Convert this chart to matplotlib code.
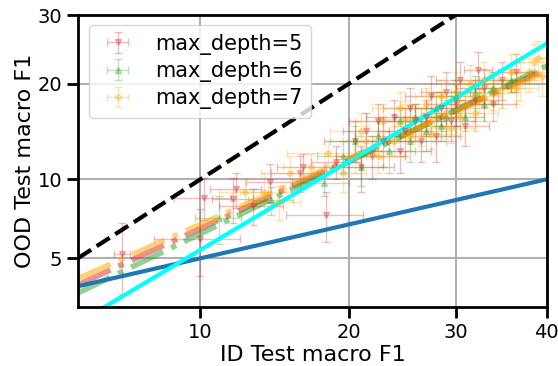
from math import erf
import numpy as np
import matplotlib
matplotlib.use('Agg')
import matplotlib.pyplot as plt

# ID / OOD macro F1 (%) for each max_depth, with std as error bars
d5_x = [6.5, 10.0, 10.2, 11.8, 12.0, 13.0, 14.1, 16.2, 16.4, 18.2, 19.0,
        20.5, 21.0, 21.5, 22.0, 22.5, 23.0, 24.0, 24.5, 25.0, 25.5, 26.0, 26.5,
        27.0, 27.5, 28.0, 28.5, 29.0, 29.5, 30.0, 30.5, 31.0, 32.0, 32.4, 33.0,
        34.0, 35.0, 36.5]
d5_y = [5.2, 6.0, 8.6, 8.5, 9.2, 8.0, 9.8, 10.5, 11.0, 7.4, 11.5,
        13.5, 11.0, 14.5, 12.0, 15.5, 13.5, 16.0, 12.5, 14.5, 17.0, 15.5, 13.5,
        16.0, 18.5, 14.0, 17.0, 19.0, 15.5, 17.5, 20.5, 15.0, 18.0, 21.9, 19.5,
        17.5, 20.5, 21.5]
d5_xerr = [0.3, 2.2, 1.5, 1.2, 1.5, 2.0, 1.5, 2.0, 1.8, 3.0, 2.0,
           2.5, 3.0, 2.0, 3.0, 2.5, 2.5, 2.5, 3.0, 2.5, 2.5, 3.0, 2.5,
           3.0, 2.5, 2.5, 2.5, 2.5, 2.5, 3.0, 2.5, 2.5, 2.5, 1.5, 3.0,
           2.5, 2.5, 2.0]
d5_yerr = [1.7, 1.8, 1.5, 1.6, 1.3, 1.2, 1.5, 1.5, 1.2, 1.6, 1.5,
           2.0, 2.0, 2.0, 2.0, 2.0, 2.5, 2.0, 2.0, 2.5, 2.5, 2.0, 2.0,
           2.0, 2.5, 2.5, 2.0, 2.5, 2.0, 2.5, 2.5, 2.0, 2.5, 2.5, 2.5,
           2.0, 2.5, 2.5]

d6_x = [11.0, 14.2, 18.0, 19.5, 20.5, 21.0, 22.5, 23.5, 24.5, 25.5, 26.0, 27.0,
        28.0, 28.5, 29.0, 30.0, 31.0, 32.0, 33.0, 34.0, 36.0]
d6_y = [7.2, 8.4, 9.7, 12.0, 13.5, 11.0, 14.0, 12.5, 15.5, 13.5, 16.0, 14.5,
        17.0, 15.0, 16.0, 18.5, 16.0, 19.0, 17.5, 19.5, 20.5]
d6_xerr = [1.3, 1.5, 2.0, 2.0, 2.0, 2.0, 2.0, 2.5, 2.0, 2.5, 2.0, 2.0,
           2.5, 2.0, 2.0, 2.5, 2.0, 2.5, 2.0, 2.0, 2.0]
d6_yerr = [1.5, 1.0, 1.0, 1.5, 1.5, 1.5, 1.5, 2.0, 1.5, 2.0, 1.5, 2.0,
           2.0, 1.5, 2.0, 2.0, 1.5, 2.0, 2.0, 2.0, 1.5]

d7_x = [12.5, 13.7, 14.7, 15.5, 17.0, 18.3, 19.5, 20.5, 21.0, 21.5, 22.5, 23.0,
        24.0, 24.5, 25.0, 25.5, 26.5, 27.0, 27.5, 28.0, 28.5, 29.0, 29.5, 30.0,
        30.5, 31.0, 31.5, 32.0, 32.5, 33.0, 34.0, 35.0, 36.0, 36.5, 37.0, 38.0,
        38.5, 39.0, 39.5]
d7_y = [9.0, 9.0, 8.3, 10.5, 11.0, 12.3, 10.5, 12.0, 14.5, 13.5, 12.0, 15.5,
        13.5, 17.0, 15.8, 14.0, 15.0, 17.5, 14.2, 16.0, 18.5, 16.5, 14.8, 19.0,
        16.0, 17.5, 20.0, 16.5, 18.5, 20.5, 18.8, 19.5, 21.5, 19.5, 20.5, 21.5,
        23.0, 23.5, 21.0]
d7_xerr = [1.5, 1.5, 1.5, 2.0, 2.0, 3.0, 2.0, 2.5, 2.5, 2.0, 2.5, 2.5,
           2.0, 2.5, 2.5, 3.0, 2.5, 2.5, 2.5, 2.5, 2.5, 2.5, 2.5, 3.0,
           2.5, 2.5, 2.5, 2.5, 2.5, 2.5, 2.5, 2.5, 2.5, 2.5, 2.5, 2.0,
           2.0, 2.0, 1.5]
d7_yerr = [1.0, 1.5, 1.2, 1.5, 1.2, 1.2, 1.5, 1.5, 2.0, 1.5, 1.5, 2.0,
           1.5, 2.0, 2.0, 1.5, 2.0, 2.0, 1.5, 2.5, 2.0, 2.0, 1.5, 2.5,
           2.0, 2.0, 2.5, 2.0, 2.0, 2.5, 2.0, 2.5, 2.5, 2.0, 2.5, 2.5,
           2.5, 2.5, 2.5]

# linear fits in probit space (end points)
fit_x = [5, 40]
fit5_y = [3.85, 22.0]
fit6_y = [3.55, 22.4]
fit7_y = [4.1, 21.7]
blue_x, blue_y = [5, 40], [3.8, 10.0]
cyan_x, cyan_y = [5.86, 40], [3.07, 25.6]
diag = [5, 30]

ticks_x = [10, 20, 30, 40]
ticks_y = [5, 10, 20, 30]

_erf = np.vectorize(erf, otypes=[float])


def cdf(z):
    return 0.5 * (1 + _erf(np.asarray(z, dtype=float) / np.sqrt(2)))


def ppf(p):
    p = np.clip(np.asarray(p, dtype=float), 1e-9, 1 - 1e-9)
    lo = np.full(p.shape, -8.0)
    hi = np.full(p.shape, 8.0)
    for _ in range(50):
        mid = (lo + hi) / 2
        below = cdf(mid) < p
        lo = np.where(below, mid, lo)
        hi = np.where(below, hi, mid)
    return (lo + hi) / 2


def fwd(v):
    return ppf(np.asarray(v, dtype=float) / 100)


def inv(z):
    return cdf(z) * 100


fig, ax = plt.subplots(figsize=(5.58, 3.66), dpi=100)
plt.subplots_adjust(left=0.14, right=0.98, bottom=0.161, top=0.959)
ax.set_xscale('function', functions=(fwd, inv))
ax.set_yscale('function', functions=(fwd, inv))

eb = dict(alpha=0.3, capsize=3, ms=4, elinewidth=1, capthick=1)
ax.errorbar(d5_x, d5_y, xerr=d5_xerr, yerr=d5_yerr, fmt='v', color='tab:red',
            label='max_depth=5', **eb)
ax.errorbar(d6_x, d6_y, xerr=d6_xerr, yerr=d6_yerr, fmt='^', color='tab:green',
            label='max_depth=6', **eb)
ax.errorbar(d7_x, d7_y, xerr=d7_xerr, yerr=d7_yerr, fmt='o', color='orange',
            label='max_depth=7', **eb)

ax.plot(fit_x, fit5_y, '-.', color='tab:red', alpha=0.5, lw=4)
ax.plot(fit_x, fit6_y, '-.', color='tab:green', alpha=0.5, lw=4)
ax.plot(fit_x, fit7_y, '-.', color='orange', alpha=0.5, lw=4)
ax.plot(diag, diag, '--', color='black', lw=3)
ax.plot(blue_x, blue_y, '-', color='tab:blue', lw=3)
ax.plot(cyan_x, cyan_y, '-', color='cyan', lw=3)

ax.set_xlim(5, 40)
ax.set_ylim(3.07, 30)
ax.set_xticks(ticks_x)
ax.set_xticklabels([str(t) for t in ticks_x])
ax.set_yticks(ticks_y)
ax.set_yticklabels([str(t) for t in ticks_y])
ax.minorticks_off()
ax.tick_params(labelsize=14, length=8, width=2)
for s in ax.spines.values():
    s.set_linewidth(2)
ax.grid(True, color='#b0b0b0', lw=1.5)
ax.set_axisbelow(True)
ax.set_xlabel('ID Test macro F1', fontsize=16, labelpad=2)
ax.set_ylabel('OOD Test macro F1', fontsize=16, labelpad=2)
ax.legend(loc='upper left', fontsize=15, labelspacing=0.3)

plt.savefig('out.png')
